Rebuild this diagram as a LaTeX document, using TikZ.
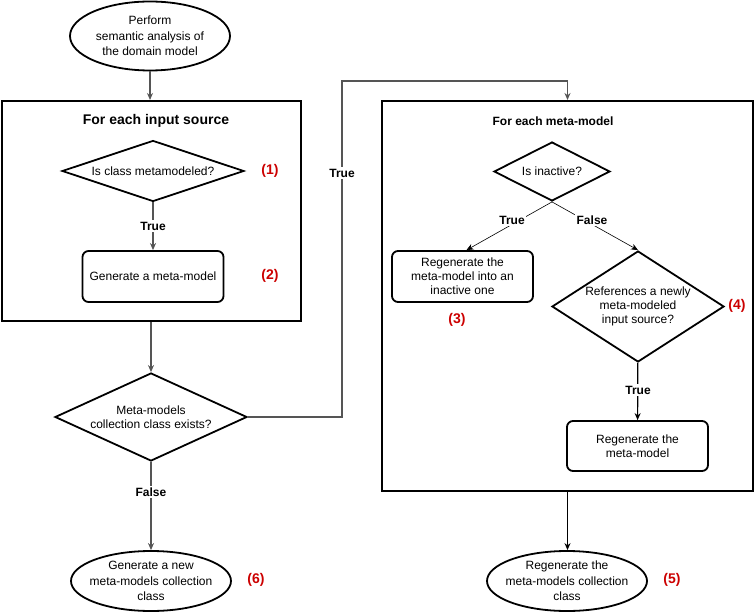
\documentclass[tikz,border=0pt]{standalone}
\usepackage{fontspec}
\setmainfont{Liberation Sans}
\usetikzlibrary{shapes.geometric, positioning, arrows.meta}
\definecolor{numred}{HTML}{CC0000}
\definecolor{edgegray}{HTML}{555555}

\tikzset{
  txt/.style={align=center, font=\fontsize{12}{14}\selectfont},
  shapeline/.style={draw, line width=1.8pt},
  roundbox/.style={shapeline, txt, rounded corners=6pt, minimum width=141pt, minimum height=51pt, inner sep=2pt},
  oval/.style={shapeline, ellipse, minimum width=160pt, minimum height=60pt, inner sep=0pt},
  decision/.style={shapeline, diamond, inner sep=0pt},
  loopbox/.style={draw, line width=2pt, inner sep=0pt},
  num/.style={text=numred, font=\fontsize{14}{16}\selectfont\bfseries},
  lbl/.style={fill=white, font=\fontsize{12}{14}\selectfont\bfseries, inner sep=1.5pt},
  flow/.style={-{Stealth[length=7pt, width=6pt]}, line width=1.2pt},
  thinflow/.style={-{Stealth[length=7pt, width=6pt]}, line width=0.6pt},
}

\begin{document}
\begin{tikzpicture}[x=1pt, y=-1pt]
            \useasboundingbox (0,0) rectangle (754,612);
            % left column
            \node[oval, minimum height=69pt, label={[txt, font=\fontsize{12}{15.5}\selectfont]center:Perform\\semantic analysis of\\the domain model}] (start) at (150,36) {};
            \node[loopbox, minimum width=299pt, minimum height=220pt] (srcloop) at (151.5,211) {};
            \node[font=\fontsize{14}{16}\selectfont\bfseries] (srctitle) at (156,121) {For each input source};
            \node[decision, minimum width=182pt, minimum height=61pt, label={[txt]center:Is class metamodeled?}] (ismeta) at (153,171) {};
            \node[roundbox] (genmeta) at (153,276.5) {Generate a meta-model};
            \node[decision, minimum width=192pt, minimum height=88pt, label={[txt]center:Meta-models\\collection class exists?}] (exists) at (151,417) {};
            \node[oval, label={[txt, font=\fontsize{12}{15.5}\selectfont]center:Generate a new\\meta-models collection\\class}] (newcoll) at (151,581) {};
            % right column
            \node[loopbox, minimum width=371pt, minimum height=390pt] (mmloop) at (567.5,296) {};
            \node[font=\fontsize{12}{14}\selectfont\bfseries] (mmtitle) at (553,121) {For each meta-model};
            \node[decision, minimum width=116pt, minimum height=59pt, label={[txt]center:Is inactive?}] (inactive) at (552,171.5) {};
            \node[roundbox] (deact) at (462.5,276.5) {Regenerate the\\meta-model into an\\inactive one};
            \node[decision, minimum width=172pt, minimum height=111pt, label={[txt]center:References a newly\\meta-modeled\\input source?}] (refs) at (638,306.5) {};
            \node[roundbox, minimum height=50pt] (regen) at (637.5,446) {Regenerate the\\meta-model};
            \node[oval, label={[txt, font=\fontsize{12}{15.5}\selectfont]center:Regenerate the\\meta-models collection\\class}] (regencoll) at (567,581) {};
            \coordinate (bend) at (342,81);

            % connectors
            \draw[flow, edgegray] (start.south) -- (start.south |- srcloop.north);
            \draw[flow, edgegray] (ismeta) -- (genmeta);
            \draw[flow, edgegray] (srcloop.south -| exists.north) -- (exists.north);
            \draw[flow, edgegray] (exists) -- (newcoll);
            \draw[flow, edgegray] (exists.east) -| (bend) -| (mmloop.north);
            \draw[thinflow] (inactive.south) -- ([xshift=4pt]deact.north);
            \draw[thinflow] (inactive.south) -- (refs.north);
            \draw[flow] (refs) -- (regen);
            \draw[flow] (mmloop.south) -- (regencoll.north -| mmloop.south);

            % edge labels
            \node[lbl] (t1) at (153,226) {True};
            \node[lbl] (f1) at (151,492) {False};
            \node[lbl] (t2) at (342,173) {True};
            \node[lbl] (t3) at (512,220) {True};
            \node[lbl] (f2) at (592,220) {False};
            \node[lbl] (t4) at (638,390) {True};

            % step numbers
            \node[num] (n1) at (270,171) {(1)};
            \node[num] (n2) at (270,276) {(2)};
            \node[num] (n3) at (457,320) {(3)};
            \node[num] (n4) at (737,306) {(4)};
            \node[num] (n5) at (672,580) {(5)};
            \node[num] (n6) at (256,580) {(6)};
        \end{tikzpicture}
\end{document}
